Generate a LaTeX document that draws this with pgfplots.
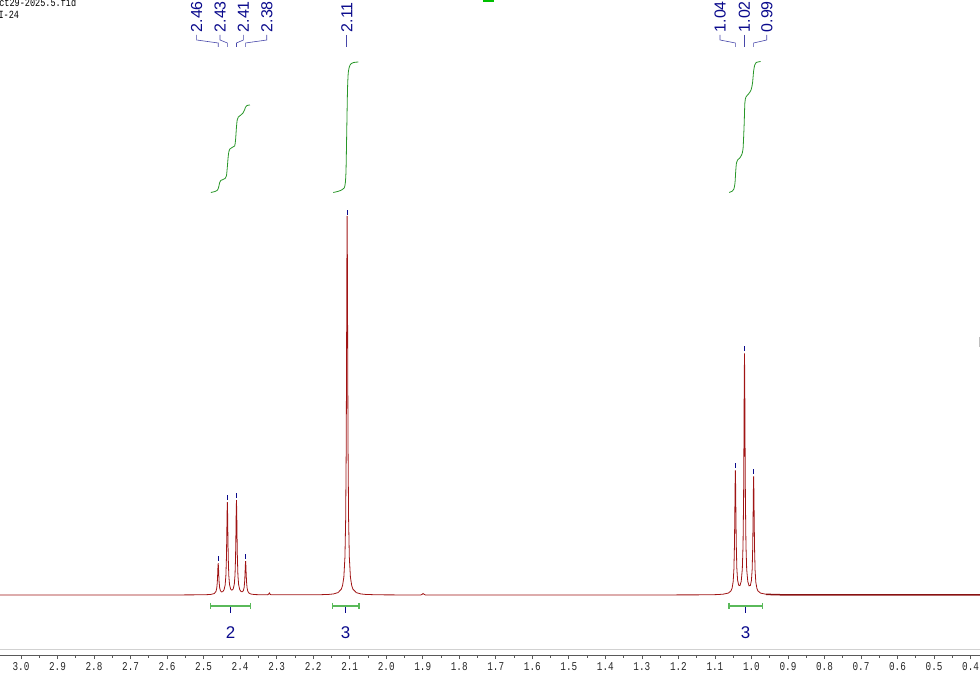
\documentclass[border=0pt]{standalone}
\usepackage{pgfplots}
\pgfplotsset{compat=1.18}
\usepackage{fontspec}
\setmainfont{Liberation Sans}
\newfontfamily\monofont[FakeStretch=0.78]{Liberation Mono}

\definecolor{spec}{RGB}{160,20,20}
\definecolor{navyc}{RGB}{10,10,140}
\definecolor{intg}{RGB}{40,150,40}
\definecolor{barg}{RGB}{90,185,90}

\begin{document}
\begin{tikzpicture}
\begin{axis}[name=ax,
    at={(0,0)}, anchor=south west,
    scale only axis,
    width=980bp, height=655bp,
    xmin=0.3742, xmax=3.0575, x dir=reverse,
    ymin=-60, ymax=595,
    clip=false,
    axis x line=bottom, axis y line=none,
    x axis line style={-, draw=black!65, line width=0.8bp},
    tick align=outside,
    major tick length=4bp, minor tick length=2.5bp,
    tick style={draw=black!65, line width=0.7bp},
    xtick={0.4,0.5,0.6,0.7,0.8,0.9,1.0,1.1,1.2,1.3,1.4,1.5,1.6,1.7,1.8,1.9,2.0,2.1,2.2,2.3,2.4,2.5,2.6,2.7,2.8,2.9,3.0},
    minor x tick num=1,
    xticklabel={\pgfmathprintnumber[fixed,fixed zerofill,precision=1,assume math mode=true]{\tick}},
    xticklabel style={font=\monofont\fontsize{12}{12}\selectfont, inner sep=0pt, yshift=-3bp, text=black!85},
    ]

% frame line just above the scale
\draw[black!18, line width=1bp] (axis cs:3.0575,-55) -- (axis cs:0.3742,-55);

% spectrum
\addplot[spec, line width=0.8bp, mark=none] coordinates {
(3.057,0) (2.70,0.05) (2.60,0.08) (2.55,0.1) (2.501,0.2) (2.481,0.5) (2.471,1.4)
(2.466,3.6) (2.464,6.8) (2.4625,12.7) (2.4615,20.5) (2.4608,27.4) (2.460,31.8)
(2.4592,27.5) (2.4585,20.6) (2.4575,13.0) (2.456,7.2) (2.454,4.3) (2.451,3.1)
(2.4475,3.4) (2.444,5.2) (2.441,10.0) (2.439,19.2) (2.4375,36.7) (2.4365,59.7)
(2.4358,80.1) (2.435,92.9) (2.4342,80.1) (2.4335,59.8) (2.4325,36.8) (2.431,19.5)
(2.429,10.4) (2.426,5.9) (2.4225,4.8) (2.419,6.0) (2.416,10.6) (2.414,19.8)
(2.4125,37.6) (2.4115,61.0) (2.4108,81.8) (2.410,94.9) (2.4092,81.8) (2.4085,61.0)
(2.4075,37.4) (2.406,19.5) (2.404,10.1) (2.401,5.3) (2.3975,3.5) (2.394,3.2)
(2.391,4.5) (2.389,7.6) (2.3875,13.8) (2.3865,21.9) (2.3858,29.2) (2.385,33.8)
(2.3842,29.1) (2.3835,21.8) (2.3825,13.5) (2.381,7.2) (2.379,3.8) (2.376,2.0)
(2.371,1.0) (2.361,0.45) (2.34,0.2) (2.325,0.15) (2.322,0.8) (2.320,2.0)
(2.318,0.8) (2.315,0.2) (2.25,0.15) (2.20,0.2)
(2.182,0.27) (2.157,0.6) (2.1445,1.06) (2.132,2.4) (2.123,5.8) (2.1195,9.5)
(2.116,17.8) (2.113,37.9) (2.111,75.8) (2.1095,147.8) (2.1085,242.6) (2.1078,326.7)
(2.107,379) (2.1062,326.7) (2.1055,242.6) (2.1045,147.8) (2.103,75.8) (2.101,37.9)
(2.098,17.8) (2.0945,9.5) (2.091,5.8) (2.082,2.4) (2.0695,1.06) (2.057,0.6)
(2.032,0.27) (2.007,0.15) (1.95,0.05)
(1.905,0.05) (1.902,0.6) (1.899,1.5) (1.896,0.6) (1.893,0.05)
(1.70,0.05) (1.50,0.05) (1.30,0.08) (1.20,0.1)
(1.148,0.13) (1.098,0.36) (1.078,0.78) (1.063,1.95) (1.056,4.1) (1.053,6.8)
(1.050,13.4) (1.048,25.9) (1.0465,49.4) (1.0455,80.2) (1.0448,107.6) (1.044,124.7)
(1.0432,107.8) (1.0425,80.6) (1.0415,50.1) (1.040,27.0) (1.038,15.2) (1.035,9.8)
(1.0315,9.4) (1.028,13.6) (1.025,25.8) (1.023,49.7) (1.0215,95.2) (1.0205,155.2)
(1.0198,208.5) (1.019,241.5) (1.0182,208.4) (1.0175,155.1) (1.0165,95.2) (1.015,49.6)
(1.013,25.8) (1.010,13.5) (1.0065,9.2) (1.003,9.5) (1.000,14.6) (0.998,25.8)
(0.9965,47.7) (0.9955,76.8) (0.9948,102.7) (0.994,118.7) (0.9932,102.5) (0.9925,76.4)
(0.9915,47.0) (0.990,24.7) (0.988,12.8) (0.985,6.5) (0.982,4.0) (0.975,1.9)
(0.960,0.75)
};
\addplot[spec!85!black, line width=1.5bp, mark=none] coordinates {
(0.960,0.75) (0.938,0.32) (0.898,0.14) (0.798,0.04) (0.3745,0)
};

% peak picks
\addplot[navyc, only marks, mark=|, mark size=2.5bp, mark options={line width=0.7bp}] coordinates {
(2.460,36) (2.435,97) (2.410,99) (2.385,38) (2.107,382) (1.044,129) (1.019,246) (0.994,123)
};

% integral curves
\addplot[intg, line width=0.8bp, smooth, tension=0.4, mark=none] coordinates {
(2.480,402.5) (2.469,403.5) (2.463,404.5) (2.4605,406) (2.458,409) (2.456,412.5)
(2.453,414.5) (2.447,415.5) (2.441,416.5) (2.4375,419) (2.435,428) (2.433,437)
(2.431,443) (2.428,446) (2.422,447.5) (2.415,449) (2.4125,455) (2.410,468)
(2.408,475) (2.405,478) (2.398,480) (2.392,482) (2.388,485) (2.385,488)
(2.381,489.5) (2.373,490)
};
\addplot[intg, line width=0.8bp, smooth, tension=0.4, mark=none] coordinates {
(2.145,402.5) (2.133,403.5) (2.122,405) (2.115,407) (2.112,412) (2.110,425)
(2.108,465) (2.106,505) (2.104,522) (2.101,528) (2.097,531) (2.089,532.5) (2.076,533)
};
\addplot[intg, line width=0.8bp, smooth, tension=0.4, mark=none] coordinates {
(1.061,402.5) (1.052,404) (1.048,406) (1.045,412) (1.043,424) (1.041,432)
(1.038,435) (1.032,437) (1.027,440) (1.023,446) (1.020,470) (1.018,492)
(1.015,498) (1.008,501) (1.001,505) (0.997,512) (0.994,524) (0.991,530)
(0.987,532.5) (0.975,533.5)
};

% integration ranges
\addplot[barg, line width=1.2bp, mark=|, mark size=3bp] coordinates {(2.4806,-11) (2.3710,-11)};
\addplot[barg, line width=1.2bp, mark=|, mark size=3bp] coordinates {(2.1476,-11) (2.0745,-11)};
\addplot[barg, line width=1.2bp, mark=|, mark size=3bp] coordinates {(1.0613,-11) (0.9701,-11)};
\addplot[navyc, only marks, mark=|, mark size=3.2bp, mark options={line width=0.7bp}] coordinates {
(2.4258,-15) (2.111,-15) (1.0157,-15)
};

\node[text=navyc, font=\fontsize{17}{17}\selectfont] at (axis cs:2.4258,-38) {2};
\node[text=navyc, font=\fontsize{17}{17}\selectfont] at (axis cs:2.111,-38) {3};
\node[text=navyc, font=\fontsize{17}{17}\selectfont] at (axis cs:1.0157,-38) {3};

% peak labels and connectors
\foreach \lx/\px/\t in {2.519/2.460/2.46, 2.455/2.435/2.43, 2.391/2.410/2.41, 2.327/2.385/2.38,
                        2.108/2.108/2.11, 1.086/1.044/1.04, 1.0195/1.0195/1.02, 0.958/0.994/0.99}{
  \edef\temp{\noexpand\draw[navyc!75, line width=0.6bp] (axis cs:\lx,560) -- (axis cs:\lx,555) -- (axis cs:\px,552) -- (axis cs:\px,548);
    \noexpand\node[rotate=90, anchor=west, inner sep=0pt, text=navyc, font=\noexpand\fontsize{16}{16}\noexpand\selectfont] at (axis cs:\lx,562.5) {\t};}
  \temp
}

% header text, top left
\node[anchor=base west, inner sep=0pt, font=\monofont\fontsize{11}{11}\selectfont] at (axis cs:3.060,588.3) {ct29-2025.5.fid};
\node[anchor=base west, inner sep=0pt, font=\monofont\fontsize{11}{11}\selectfont] at (axis cs:3.062,576) {I-24};

% small marks at the edges
\fill[green!75!black] (axis cs:1.734,593.3) rectangle (axis cs:1.705,597);
\draw[black!25, line width=1bp] (axis cs:0.3758,258) -- (axis cs:0.3758,248);
\end{axis}
\pgfresetboundingbox
\path[use as bounding box] ([yshift=-20bp]ax.south west) rectangle (ax.north east);
\end{tikzpicture}
\end{document}
